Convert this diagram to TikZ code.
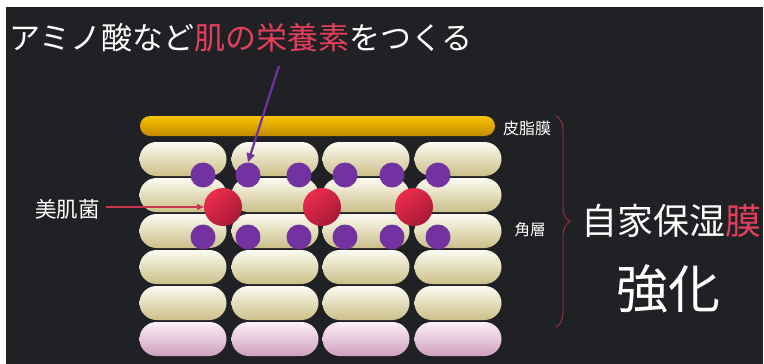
\documentclass[tikz,border=0pt]{standalone}
\usepackage{fontspec}
\newfontfamily\jp{Noto Sans CJK JP}
\usetikzlibrary{shapes.misc,arrows.meta,decorations.pathreplacing}
\definecolor{bg}{HTML}{202124}
\definecolor{accent}{HTML}{E23F5B}
\definecolor{germ}{HTML}{C8354F}
\definecolor{amino}{HTML}{7232A0}
\definecolor{bracecol}{HTML}{9E3247}
\definecolor{creamtop}{HTML}{FCFBF1}
\definecolor{creammid}{HTML}{F4EFD0}
\definecolor{creambot}{HTML}{CBBF89}
\definecolor{pinktop}{HTML}{FCF0F7}
\definecolor{pinkmid}{HTML}{F3D6E9}
\definecolor{pinkbot}{HTML}{CF9FBF}
\definecolor{sebumtop}{HTML}{F7C400}
\definecolor{sebummid}{HTML}{F3BA00}
\definecolor{sebumbot}{HTML}{C48C00}
\definecolor{balltop}{HTML}{EC2C4E}
\definecolor{ballbot}{HTML}{A81A35}
\tikzset{
  cell/.style={rounded rectangle, minimum width=87pt, minimum height=34pt, inner sep=0pt},
  cream/.style={cell, top color=creamtop, middle color=creammid, bottom color=creambot},
  pink/.style={cell, top color=pinktop, middle color=pinkmid, bottom color=pinkbot},
  sebum/.style={rounded rectangle, minimum width=355pt, minimum height=20pt, inner sep=0pt,
    top color=sebumtop, middle color=sebummid, bottom color=sebumbot},
  dot/.style={circle, fill=amino, minimum size=25pt, inner sep=0pt},
  ball/.style={circle, minimum size=38pt, inner sep=0pt,
    top color=balltop, bottom color=ballbot, shading angle=40},
  txt/.style={text=white, inner sep=0pt, font=\jp\fontsize{#1}{#1}\selectfont},
}
\begin{document}
\begin{tikzpicture}[x=1pt,y=-1pt]
\useasboundingbox (0,0) rectangle (764,364);
\fill[white] (0,0) rectangle (764,364);
\fill[bg] (6,7) rectangle (763,364);

% skin layers: sebum film on top, stratum corneum cells below
\node[sebum] (sebum) at (317.5,126) {};
\foreach \r/\y in {1/159,2/195,3/231,4/267,5/303}
  \foreach \c/\x in {1/183,2/275,3/366,4/458}
    \node[cream] (p\r\c) at (\x,\y) {};
\foreach \c/\x in {1/183,2/275,3/366,4/458}
  \node[pink] (p6\c) at (\x,339) {};

% amino acids between the cells
\foreach \i/\x in {1/203,2/248,3/299,4/345,5/392,6/438}{
  \node[dot] (a\i) at (\x,175) {};
  \node[dot] (b\i) at (\x,237) {};
}

% skin bacteria
\node[ball] (g1) at (223,207) {};
\node[ball] (g2) at (322,207) {};
\node[ball] (g3) at (414,207) {};

% texts
\node[txt=31pt] (title) at (241,38)
  {アミノ酸など\textcolor{accent}{肌の栄養素}をつくる};
\node[txt=21.5pt] (germlab) at (67.5,209) {美肌菌};
\node[txt=16pt] (sebumlab) at (527,128) {皮脂膜};
\node[txt=15.5pt] (cornlab) at (530,230) {角層};
\node[txt=36pt] (film) at (671,221) {自家保湿\textcolor{accent}{膜}};
\node[txt=52pt] (boost) at (668.5,289) {強化};

% pointers
\coordinate (titlefoot) at (279,66);
\draw[amino, line width=2.2pt, -{Triangle[length=9pt,width=8pt]}] (titlefoot) -- (a2.north);
\draw[germ, line width=2pt, -{Triangle[length=7pt,width=6pt]}]
  ([xshift=6pt]germlab.east |- g1.west) -- (g1.west);

% brace grouping the layers
\draw[bracecol, line width=0.9pt, decorate, decoration={brace, amplitude=14pt}]
  (556,116) -- (556,327);
\end{tikzpicture}
\end{document}
